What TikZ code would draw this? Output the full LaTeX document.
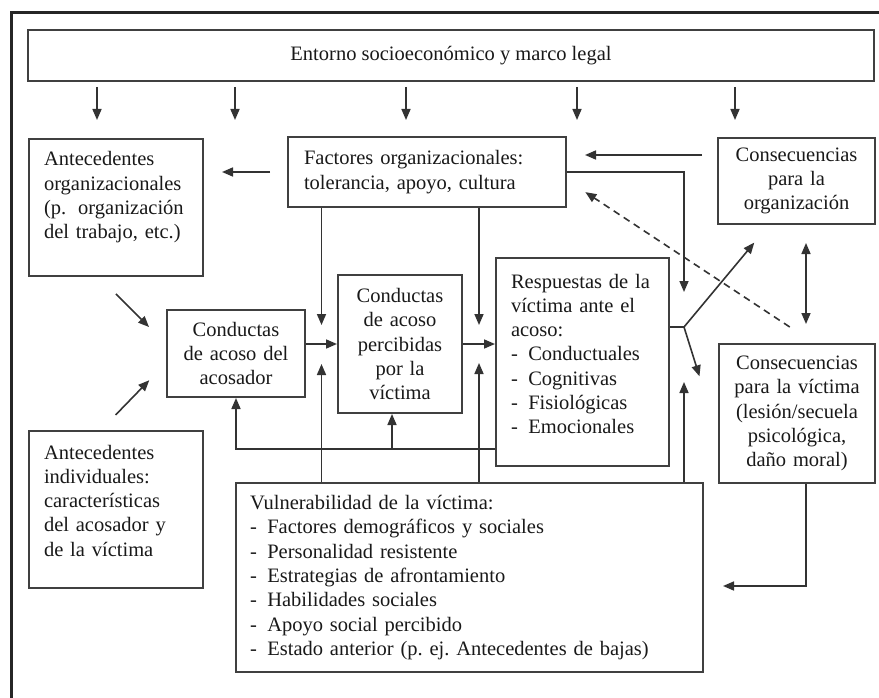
\documentclass[tikz,border=0pt]{standalone}
\usepackage{fontspec}
\setmainfont{Liberation Serif}
\usetikzlibrary{arrows.meta,positioning,calc}
\newcommand{\guion}{-\hspace{10.5pt}}

\begin{document}
\begin{tikzpicture}[x=1pt, y=-1pt, font=\fontsize{20.5}{24.3}\selectfont, text=black!90,
>={Triangle[length=11pt,width=9pt]},
box/.style={draw=black!75, line width=2pt, inner sep=0pt, align=center},
lbox/.style={box, align=left, anchor=north west, inner xsep=15pt},
ln/.style={line width=1.6pt, draw=black!80}]
\useasboundingbox (0,0) rectangle (879,698);
\draw[line width=3pt, black!85] (11,698) -- (11,13) -- (879,13);
\node[box, minimum width=846pt, minimum height=51pt] (env) at (451,55.5) {Entorno socioeconómico y marco legal};
\node[lbox, text width=144pt, text height=27pt, text depth=110pt] (antorg) at (28,138)
  {Antecedentes\\organizacionales\\(p.\hspace{12pt}organización\\del trabajo, etc.)};
\node[box, align=left, anchor=west, text width=246pt, inner xsep=16pt, minimum height=70pt] (fact) at (287,172)
  {Factores organizacionales:\\tolerancia, apoyo, cultura};
\node[box, text width=157pt, minimum height=86pt] (consorg) at (796.5,181) {Consecuencias\\para la\\organización};
\node[lbox, text width=143pt, text height=30pt, text depth=178pt] (resp) at (495,257)
  {Respuestas de la\\víctima ante el\\acoso:\\\guion Conductuales\\\guion Cognitivas\\\guion Fisiológicas\\\guion Emocionales};
\node[box, text width=124pt, minimum height=138pt] (perc) at (400,344) {Conductas\\de acoso\\percibidas\\por la\\víctima};
\node[box, text width=138pt, minimum height=87pt] (acos) at (236,353.5) {Conductas\\de acoso del\\acosador};
\node[lbox, text width=144pt, text height=28pt, text depth=129pt] (antind) at (28,430)
  {Antecedentes\\individuales:\\características\\del acosador y\\de la víctima};
\node[box, text width=156pt, minimum height=139pt] (consvic) at (797,413.5)
  {Consecuencias\\para la víctima\\(lesión/secuela\\psicológica,\\daño moral)};
\node[box, align=left, text width=439pt, inner xsep=14pt, minimum height=189pt] (vuln) at (469.5,577.5)
  {Vulnerabilidad de la víctima:\\\guion Factores demográficos y sociales\\\guion Personalidad resistente\\\guion Estrategias de afrontamiento\\\guion Habilidades sociales\\\guion Apoyo social percibido\\\guion Estado anterior (p.\ ej.\ Antecedentes de bajas)};
\coordinate (fork) at (684,327);
\coordinate (m1) at ($(acos.east |- perc.west)!.5!(perc.west)$);
\coordinate (m2) at ($(perc.east)!.5!(perc.east -| resp.west)$);
\coordinate (fb) at ([yshift=18pt]resp.south west);
% entorno sobre todo el modelo
\foreach \x in {98,236,407,578,736} \draw[->, ln] ([xshift=\x pt-28pt, yshift=-5pt]env.south west) -- ++(0,33);
\draw[->, ln, shorten <=17pt, shorten >=18pt] (fact.west) -- (fact.west -| antorg.east);
\draw[->, ln, shorten <=15pt, shorten >=18pt] ([yshift=26pt]consorg.west) -- ([yshift=26pt]consorg.west -| fact.east);
\draw[->, ln, shorten >=35pt] (fact.east) -| (fork);
\draw[->, ln, shorten <=24pt, shorten >=24pt] ([xshift=-17pt]antorg.south) -- ([yshift=9.5pt]acos.west);
\draw[->, ln, shorten <=21pt, shorten >=24pt] ([xshift=-15pt]antind.north) -- ([yshift=-9.5pt]acos.west);
\draw[->, ln] (acos.east |- perc.west) -- (perc.west); \draw[->, ln] (perc.east) -- (perc.east -| resp.west);
\draw[->, ln, shorten >=19pt] (fact.south -| m1) -- (m1); \draw[->, ln, shorten >=19pt] (fact.south -| m2) -- (m2);
\draw[->, ln, shorten >=20pt] (vuln.north -| m1) -- (m1); \draw[->, ln, shorten >=19pt] (vuln.north -| m2) -- (m2);
\draw[->, ln] (fb) -| (acos.south); \draw[->, ln] ([xshift=-8pt]perc.south |- fb) -- ([xshift=-8pt]perc.south);
% salida de las respuestas
\draw[ln] (resp.east |- fork) -- (fork);
\draw[->, ln, shorten >=23pt] (fork) -- ([xshift=52pt]consorg.south west);
\draw[->, ln, shorten >=62pt] (fork) -- ([yshift=-22pt]consvic.west);
\draw[->, ln, shorten >=55pt] (vuln.north -| fork) -- (fork);
\draw[->, ln, dash pattern=on 7pt off 5pt, shorten <=29pt, shorten >=22pt] ([xshift=17pt]consvic.north) -- ([yshift=-8pt]fact.east);
\draw[<->, ln, shorten <=18pt, shorten >=19pt] ([xshift=9.5pt]consorg.south) -- ([xshift=9pt]consvic.north);
\draw[->, ln, shorten >=19pt] ([xshift=9pt]consvic.south) |- ([yshift=-8.5pt]vuln.east);
\end{tikzpicture}
\end{document}
